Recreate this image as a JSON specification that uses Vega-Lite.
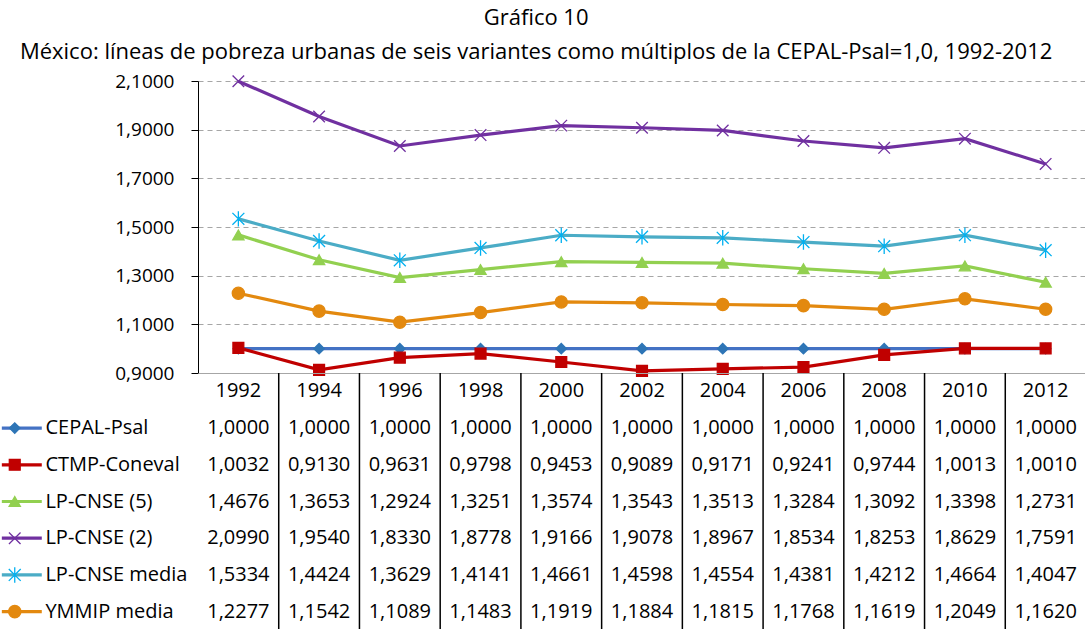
{
  "$schema": "https://vega.github.io/schema/vega-lite/v6.json",
  "padding": {"top": 7, "left": 0, "right": 0, "bottom": 0},
  "spacing": 0,
  "bounds": "flush",
  "background": "white",
  "title": {
    "text": ["Gráfico 10", "México: líneas de pobreza urbanas de seis variantes como múltiplos de la CEPAL-Psal=1,0, 1992-2012"],
    "fontSize": 22, "fontWeight": "normal", "font": "Open Sans", "anchor": "middle", "lineHeight": 34, "offset": 8, "dx": -7, "color": "black"
  },
  "datasets": {
    "d": [
      {"year":1992,"series":"CEPAL-Psal","value":1.0000},{"year":1994,"series":"CEPAL-Psal","value":1.0000},{"year":1996,"series":"CEPAL-Psal","value":1.0000},{"year":1998,"series":"CEPAL-Psal","value":1.0000},{"year":2000,"series":"CEPAL-Psal","value":1.0000},{"year":2002,"series":"CEPAL-Psal","value":1.0000},{"year":2004,"series":"CEPAL-Psal","value":1.0000},{"year":2006,"series":"CEPAL-Psal","value":1.0000},{"year":2008,"series":"CEPAL-Psal","value":1.0000},{"year":2010,"series":"CEPAL-Psal","value":1.0000},{"year":2012,"series":"CEPAL-Psal","value":1.0000},
      {"year":1992,"series":"CTMP-Coneval","value":1.0032},{"year":1994,"series":"CTMP-Coneval","value":0.9130},{"year":1996,"series":"CTMP-Coneval","value":0.9631},{"year":1998,"series":"CTMP-Coneval","value":0.9798},{"year":2000,"series":"CTMP-Coneval","value":0.9453},{"year":2002,"series":"CTMP-Coneval","value":0.9089},{"year":2004,"series":"CTMP-Coneval","value":0.9171},{"year":2006,"series":"CTMP-Coneval","value":0.9241},{"year":2008,"series":"CTMP-Coneval","value":0.9744},{"year":2010,"series":"CTMP-Coneval","value":1.0013},{"year":2012,"series":"CTMP-Coneval","value":1.0010},
      {"year":1992,"series":"LP-CNSE (5)","value":1.4676},{"year":1994,"series":"LP-CNSE (5)","value":1.3653},{"year":1996,"series":"LP-CNSE (5)","value":1.2924},{"year":1998,"series":"LP-CNSE (5)","value":1.3251},{"year":2000,"series":"LP-CNSE (5)","value":1.3574},{"year":2002,"series":"LP-CNSE (5)","value":1.3543},{"year":2004,"series":"LP-CNSE (5)","value":1.3513},{"year":2006,"series":"LP-CNSE (5)","value":1.3284},{"year":2008,"series":"LP-CNSE (5)","value":1.3092},{"year":2010,"series":"LP-CNSE (5)","value":1.3398},{"year":2012,"series":"LP-CNSE (5)","value":1.2731},
      {"year":1992,"series":"LP-CNSE (2)","value":2.0990},{"year":1994,"series":"LP-CNSE (2)","value":1.9540},{"year":1996,"series":"LP-CNSE (2)","value":1.8330},{"year":1998,"series":"LP-CNSE (2)","value":1.8778},{"year":2000,"series":"LP-CNSE (2)","value":1.9166},{"year":2002,"series":"LP-CNSE (2)","value":1.9078},{"year":2004,"series":"LP-CNSE (2)","value":1.8967},{"year":2006,"series":"LP-CNSE (2)","value":1.8534},{"year":2008,"series":"LP-CNSE (2)","value":1.8253},{"year":2010,"series":"LP-CNSE (2)","value":1.8629},{"year":2012,"series":"LP-CNSE (2)","value":1.7591},
      {"year":1992,"series":"LP-CNSE media","value":1.5334},{"year":1994,"series":"LP-CNSE media","value":1.4424},{"year":1996,"series":"LP-CNSE media","value":1.3629},{"year":1998,"series":"LP-CNSE media","value":1.4141},{"year":2000,"series":"LP-CNSE media","value":1.4661},{"year":2002,"series":"LP-CNSE media","value":1.4598},{"year":2004,"series":"LP-CNSE media","value":1.4554},{"year":2006,"series":"LP-CNSE media","value":1.4381},{"year":2008,"series":"LP-CNSE media","value":1.4212},{"year":2010,"series":"LP-CNSE media","value":1.4664},{"year":2012,"series":"LP-CNSE media","value":1.4047},
      {"year":1992,"series":"YMMIP media","value":1.2277},{"year":1994,"series":"YMMIP media","value":1.1542},{"year":1996,"series":"YMMIP media","value":1.1089},{"year":1998,"series":"YMMIP media","value":1.1483},{"year":2000,"series":"YMMIP media","value":1.1919},{"year":2002,"series":"YMMIP media","value":1.1884},{"year":2004,"series":"YMMIP media","value":1.1815},{"year":2006,"series":"YMMIP media","value":1.1768},{"year":2008,"series":"YMMIP media","value":1.1619},{"year":2010,"series":"YMMIP media","value":1.2049},{"year":2012,"series":"YMMIP media","value":1.1620}
    ]
  },
  "vconcat": [
    {
      "width": 888,
      "height": 292,
      "data": {"name": "d"},
      "encoding": {
        "x": {"field": "year", "type": "quantitative", "scale": {"domain": [1991, 2013], "nice": false, "zero": false}, "axis": null},
        "y": {"field": "value", "type": "quantitative", "scale": {"domain": [0.9, 2.1], "nice": false, "zero": false},
              "axis": {"values": [0.9, 1.1, 1.3, 1.5, 1.7, 1.9, 2.1], "format": ".4f", "title": null,
                       "minExtent": 197, "maxExtent": 197, "tickSize": 7, "tickColor": "black", "domainColor": "black",
                       "labelPadding": 17, "labelFontSize": 19, "labelFont": "Open Sans", "labelColor": "black",
                       "grid": true, "gridDash": [5, 4], "gridColor": "#A6A6A6", "gridWidth": 1.2}}
      },
      "layer": [
        {"mark": {"type": "line", "strokeWidth": 3.2},
         "encoding": {"color": {"field": "series", "type": "nominal", "legend": null,
            "scale": {"domain": ["CEPAL-Psal","CTMP-Coneval","LP-CNSE (5)","LP-CNSE (2)","LP-CNSE media","YMMIP media"],
                      "range": ["#4472C4","#C00000","#92D050","#7030A0","#4BACC6","#E3890F"]}}}},
        {"mark": {"type": "point", "opacity": 1, "strokeWidth": 1.3},
         "encoding": {
           "fill": {"field": "series", "type": "nominal", "legend": null,
              "scale": {"domain": ["CEPAL-Psal","CTMP-Coneval","LP-CNSE (5)","LP-CNSE (2)","LP-CNSE media","YMMIP media"],
                        "range": ["#2E75B6","#C00000","#92D050","transparent","transparent","#E3890F"]}},
           "stroke": {"field": "series", "type": "nominal", "legend": null,
              "scale": {"domain": ["CEPAL-Psal","CTMP-Coneval","LP-CNSE (5)","LP-CNSE (2)","LP-CNSE media","YMMIP media"],
                        "range": ["#2E75B6","#C00000","#92D050","#7030A0","#00B0F0","#E3890F"]}},
           "shape": {"field": "series", "type": "nominal", "legend": null,
              "scale": {"domain": ["CEPAL-Psal","CTMP-Coneval","LP-CNSE (5)","LP-CNSE (2)","LP-CNSE media","YMMIP media"],
                        "range": ["diamond","square","triangle-up","M-1,-1L1,1M-1,1L1,-1","M-1,-1L1,1M-1,1L1,-1M0,-1.3L0,1.3","circle"]}},
           "size": {"field": "series", "type": "nominal", "legend": null,
              "scale": {"domain": ["CEPAL-Psal","CTMP-Coneval","LP-CNSE (5)","LP-CNSE (2)","LP-CNSE media","YMMIP media"],
                        "range": [110, 150, 130, 150, 180, 150]}}
         }}
      ]
    },
    {
      "width": 888,
      "height": 257,
      "data": {"name": "d"},
      "encoding": {
        "y": {"field": "series", "type": "nominal", "axis": null,
              "scale": {"domain": ["_year","CEPAL-Psal","CTMP-Coneval","LP-CNSE (5)","LP-CNSE (2)","LP-CNSE media","YMMIP media"], "paddingInner": 0, "paddingOuter": 0}}
      },
      "layer": [
        {
          "encoding": {
            "x": {"field": "year", "type": "ordinal", "scale": {"paddingInner": 0, "paddingOuter": 0},
                  "axis": {"orient": "top", "labels": false, "ticks": false, "grid": false, "domain": true, "domainColor": "#A6A6A6", "domainWidth": 1.2, "title": null}}
          },
          "layer": [
            {"mark": {"type": "text", "align": "center", "baseline": "middle", "font": "Open Sans", "fontSize": 20, "color": "black"},
             "encoding": {"text": {"field": "value", "type": "quantitative", "format": ".4f"}}},
            {"transform": [{"filter": "datum.series === 'CEPAL-Psal'"}],
             "mark": {"type": "text", "align": "center", "baseline": "middle", "font": "Open Sans", "fontSize": 20, "color": "black"},
             "encoding": {"y": {"datum": "_year", "type": "nominal"},
                          "text": {"field": "year", "type": "ordinal"}}},
            {"transform": [{"filter": "datum.series === 'CEPAL-Psal' && datum.year !== 1992"}],
             "mark": {"type": "rule", "color": "black", "strokeWidth": 1.5},
             "encoding": {"x": {"field": "year", "type": "ordinal", "bandPosition": 0}, "y": null}}
          ]
        },
        {
          "transform": [{"filter": "datum.year === 1992"}],
          "layer": [
            {"mark": {"type": "rule", "strokeWidth": 3.2},
             "encoding": {"x": {"datum": 1986.14, "type": "quantitative", "scale": {"domain": [1991, 2013], "nice": false, "zero": false}, "axis": null},
                          "x2": {"datum": 1987.13},
                          "color": {"field": "series", "type": "nominal", "legend": null}}},
            {"mark": {"type": "point", "opacity": 1, "strokeWidth": 1.3},
             "encoding": {"x": {"datum": 1986.46, "type": "quantitative"},
                          "fill": {"field": "series", "type": "nominal", "legend": null},
                          "stroke": {"field": "series", "type": "nominal", "legend": null},
                          "shape": {"field": "series", "type": "nominal", "legend": null},
                          "size": {"field": "series", "type": "nominal", "legend": null}}},
            {"mark": {"type": "text", "align": "left", "baseline": "middle", "font": "Open Sans", "fontSize": 20, "color": "black"},
             "encoding": {"x": {"datum": 1987.22, "type": "quantitative"},
                          "text": {"field": "series", "type": "nominal"}}}
          ]
        }
      ],
      "resolve": {"scale": {"x": "independent"}, "axis": {"x": "independent"}}
    }
  ],
  "config": {
    "view": {"stroke": null},
    "font": "Open Sans",
    "legend": {"disable": true},
    "locale": {"number": {"decimal": ",", "thousands": ".", "grouping": [3], "currency": ["", ""]}}
  }
}
